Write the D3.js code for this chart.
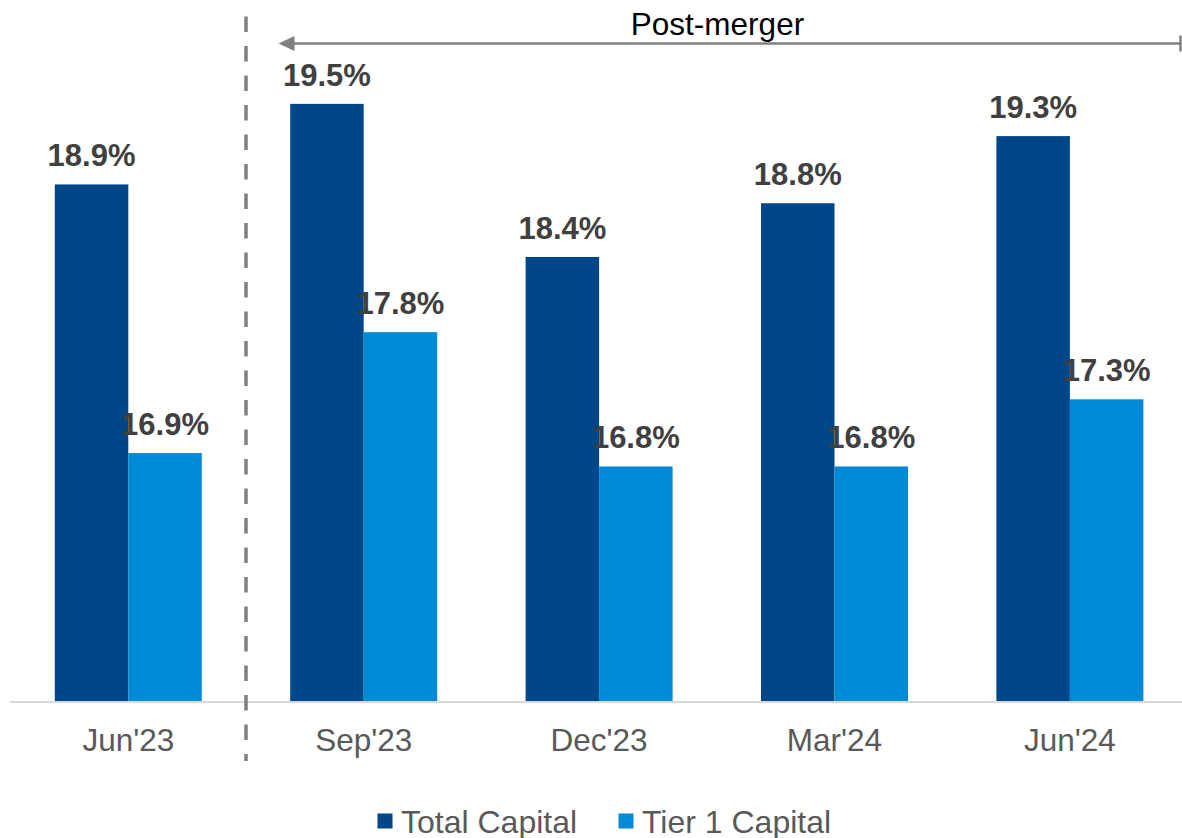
<!DOCTYPE html>
<html><head><meta charset="utf-8">
<script src="https://cdn.jsdelivr.net/npm/d3@7"></script>
<style>html,body{margin:0;padding:0;background:#fff;}svg{display:block;font-family:"Liberation Sans",Arial,sans-serif;}</style>
</head><body>
<svg id="chart" width="1182" height="838"></svg>
<script>
const categories = ["Jun'23", "Sep'23", "Dec'23", "Mar'24", "Jun'24"];
const seriesNames = ["Total Capital", "Tier 1 Capital"];
const totalCapital = [18.9, 19.5, 18.36, 18.76, 19.26];
const tier1Capital = [16.9, 17.8, 16.8, 16.8, 17.3];
const colors = ["#00478A", "#008AD5"];
const annotationText = "Post-merger";

const svg = d3.select("#chart");
const W = 1182, baseY = 701.5;

const x = d3.scaleBand().domain(categories).range([10.6, 1187.6]).paddingInner(0.3755).paddingOuter(0.18775);
const xs = d3.scaleBand().domain(seriesNames).range([0, x.bandwidth()]);
const y = d3.scaleLinear().domain([15.05, 20]).range([baseY, baseY - 4.95 * 134.3]);
const fmt = d3.format(".1f");

const data = categories.map((c, i) => ({cat: c, vals: [totalCapital[i], tier1Capital[i]]}));

const g = svg.append("g");
const groups = g.selectAll("g.grp").data(data).join("g").attr("class", "grp")
  .attr("transform", d => `translate(${x(d.cat)},0)`);

groups.selectAll("rect").data(d => d.vals.map((v, j) => ({v, s: seriesNames[j], j})))
  .join("rect")
  .attr("x", d => xs(d.s))
  .attr("width", xs.bandwidth())
  .attr("y", d => y(d.v))
  .attr("height", d => baseY - y(d.v))
  .attr("fill", d => colors[d.j]);

groups.selectAll("text.val").data(d => d.vals.map((v, j) => ({v, s: seriesNames[j], j})))
  .join("text").attr("class", "val")
  .attr("x", d => xs(d.s) + xs.bandwidth() / 2)
  .attr("y", d => y(d.v) - 18)
  .attr("text-anchor", "middle")
  .attr("font-size", "31px").attr("font-weight", "bold").attr("fill", "#404040")
  .text(d => fmt(d.v) + "%");

// baseline axis
svg.append("line").attr("x1", 10).attr("x2", W).attr("y1", baseY + 0.5).attr("y2", baseY + 0.5)
  .attr("stroke", "#d9d9d9").attr("stroke-width", 2);

const xAxis = svg.append("g").attr("transform", `translate(0,${baseY})`)
  .call(d3.axisBottom(x).tickSize(0).tickPadding(0));
xAxis.select(".domain").remove();
xAxis.selectAll("text").attr("y", 49.5).attr("dy", null)
  .attr("font-size", "31.5px").attr("fill", "#595959").attr("font-family", "\"Liberation Sans\",Arial,sans-serif");

// dashed separator
const sepX = (x(categories[0]) + x(categories[1]) + x.bandwidth()) / 2;
svg.append("line").attr("x1", sepX).attr("x2", sepX).attr("y1", 16.5).attr("y2", 761)
  .attr("stroke", "#808080").attr("stroke-width", 3.5).attr("stroke-dasharray", "15.5,14");

// Post-merger arrow
const arrowY = 43.5, ax0 = 278.5, ax1 = 1180.5;
svg.append("line").attr("x1", ax0 + 12).attr("x2", ax1).attr("y1", arrowY).attr("y2", arrowY)
  .attr("stroke", "#808080").attr("stroke-width", 2.5);
svg.append("path").attr("d", `M${ax0},${arrowY} L${ax0 + 16},${arrowY - 7.5} L${ax0 + 16},${arrowY + 7.5} Z`).attr("fill", "#808080");
svg.append("line").attr("x1", ax1).attr("x2", ax1).attr("y1", arrowY - 8).attr("y2", arrowY + 8)
  .attr("stroke", "#808080").attr("stroke-width", 2.5);
svg.append("text").attr("x", 717.5).attr("y", 35).attr("text-anchor", "middle")
  .attr("font-size", "31.5px").attr("fill", "#000").text(annotationText);

// legend
const legX = [377.5, 618.5];
const leg = svg.append("g").selectAll("g").data(seriesNames).join("g")
  .attr("transform", (d, i) => `translate(${legX[i]},0)`);
leg.append("rect").attr("x", 0).attr("y", 813.5).attr("width", 15).attr("height", 15)
  .attr("fill", (d, i) => colors[i]);
leg.append("text").attr("x", 23.5).attr("y", 832.5).attr("font-size", "32px").attr("fill", "#595959").text(d => d);
</script>
</body></html>
